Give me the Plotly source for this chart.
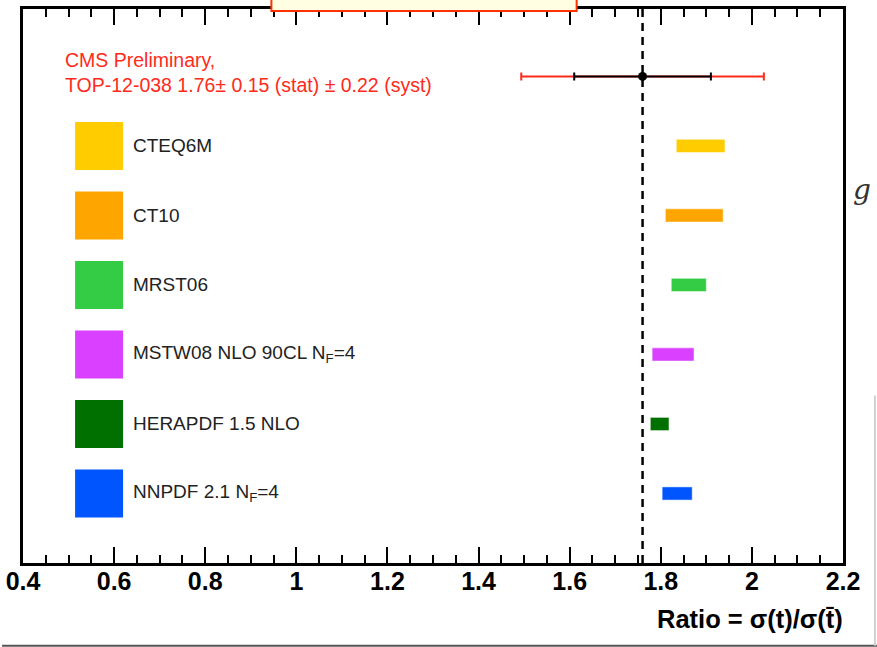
import plotly.graph_objects as go

# ---- data ----
pdf_names = ["CTEQ6M", "CT10", "MRST06", "MSTW08 NLO 90CL N<sub>F</sub>=4",
             "HERAPDF 1.5 NLO", "NNPDF 2.1 N<sub>F</sub>=4"]
pdf_low = [1.834, 1.810, 1.823, 1.781, 1.777, 1.803]
pdf_high = [1.941, 1.937, 1.900, 1.873, 1.818, 1.869]
pdf_colors = ["#ffcc00", "#ffa500", "#33cc44", "#d940ff", "#007000", "#0055ff"]
pdf_rows = [6, 5, 4, 3, 2, 1]

meas_value = 1.76
meas_stat = 0.15
meas_syst = 0.22
meas_total = (meas_stat ** 2 + meas_syst ** 2) ** 0.5
meas_row = 7

tick_vals = [0.4, 0.6, 0.8, 1.0, 1.2, 1.4, 1.6, 1.8, 2.0, 2.2]
tick_text = ["0.4", "0.6", "0.8", "1", "1.2", "1.4", "1.6", "1.8", "2", "2.2"]

legend_x = 0.567
label_x = 0.636

fig = go.Figure()

# theory bars
for name, lo, hi, col, row in zip(pdf_names, pdf_low, pdf_high, pdf_colors, pdf_rows):
    fig.add_trace(go.Bar(
        orientation="h", y=[row], x=[hi - lo], base=[lo], width=0.19,
        marker=dict(color=col, line=dict(color="rgba(255,255,255,0.5)", width=1)),
        showlegend=False, hoverinfo="skip"))

# legend swatches
fig.add_trace(go.Scatter(
    x=[legend_x] * len(pdf_rows), y=pdf_rows, mode="markers",
    marker=dict(symbol="square", size=48, color=pdf_colors, line=dict(width=0)),
    showlegend=False, hoverinfo="skip"))

# measurement: total (red) and stat (black) errors
fig.add_trace(go.Scatter(
    x=[meas_value], y=[meas_row], mode="markers",
    marker=dict(size=1, color="rgba(0,0,0,0)"),
    error_x=dict(type="data", array=[meas_total], color="#ff2a1a", thickness=2, width=4),
    showlegend=False, hoverinfo="skip"))
fig.add_trace(go.Scatter(
    x=[meas_value], y=[meas_row], mode="markers",
    marker=dict(size=9, color="black"),
    error_x=dict(type="data", array=[meas_stat], color="black", thickness=2, width=4),
    showlegend=False, hoverinfo="skip"))

annotations = []
for name, row in zip(pdf_names, pdf_rows):
    annotations.append(dict(
        x=label_x, y=row, xref="x", yref="y", text=name, showarrow=False,
        xanchor="left", yanchor="middle",
        font=dict(family="Liberation Sans, Arial, sans-serif", size=19, color="#222")))

annotations.append(dict(
    x=0.4875, y=meas_row + 0.06, xref="x", yref="y",
    text="CMS Preliminary,<br>TOP-12-038 %.2f\u00b1 %.2f (stat) \u00b1 %.2f (syst)" % (meas_value, meas_stat, meas_syst),
    showarrow=False, xanchor="left", yanchor="middle", align="left",
    font=dict(family="Liberation Sans, Arial, sans-serif", size=19.5, color="#ff2a1a")))

annotations.append(dict(
    x=1.0 + 2 / 822, y=(563 - 619) / 556, xref="paper", yref="paper",
    text="<b>Ratio = \u03c3(t)/\u03c3(t\u0304)</b>", showarrow=False,
    xanchor="right", yanchor="middle",
    font=dict(family="Liberation Sans, Arial, sans-serif", size=25.5, color="black")))

annotations.append(dict(
    x=(862 - 21) / 822, y=(563 - 188) / 556, xref="paper", yref="paper",
    text="<i>g</i>", showarrow=False, xanchor="center", yanchor="middle",
    font=dict(family="DejaVu Serif, Liberation Serif, serif", size=28, color="#333")))

shapes = [
    dict(type="line", xref="x", yref="y", x0=meas_value, x1=meas_value, y0=0, y1=8,
         line=dict(color="black", width=2.5, dash="8px,6px"), layer="above"),
    # partial box at top (cropped element)
    dict(type="rect", xref="paper", yref="paper",
         x0=(270 - 21) / 822, x1=(576 - 21) / 822, y0=1 - 2 / 556, y1=1 + 12 / 556,
         line=dict(color="#ff3300", width=2), fillcolor="#fffde2", layer="above"),
    # screenshot edges
    dict(type="line", xref="paper", yref="paper",
         x0=-21 / 822, x1=856 / 822, y0=-83 / 556, y1=-83 / 556,
         line=dict(color="#555", width=2)),
    dict(type="line", xref="paper", yref="paper",
         x0=854 / 822, x1=854 / 822, y0=-83 / 556, y1=1 - 388 / 556,
         line=dict(color="#d0d0d0", width=2)),
]

fig.update_layout(
    width=877, height=647,
    margin=dict(l=21, r=34, t=6, b=84),
    paper_bgcolor="white", plot_bgcolor="white",
    barmode="overlay",
    annotations=annotations, shapes=shapes,
    xaxis=dict(
        range=[0.4, 2.2], tickvals=tick_vals, ticktext=tick_text,
        ticks="inside", ticklen=16, tickwidth=2, tickcolor="black",
        minor=dict(dtick=0.05, tick0=0.4, ticks="inside", ticklen=8, tickwidth=2, tickcolor="black"),
        showline=True, linecolor="black", linewidth=3, mirror="ticks",
        showgrid=False, zeroline=False, ticklabelstandoff=-6,
        tickfont=dict(family="Liberation Sans, Arial, sans-serif", size=25, color="black", weight="bold"),
    ),
    yaxis=dict(
        range=[0, 7.97], showticklabels=False, ticks="",
        showline=True, linecolor="black", linewidth=3, mirror=True,
        showgrid=False, zeroline=False,
    ),
)

fig.write_html("out.html")
